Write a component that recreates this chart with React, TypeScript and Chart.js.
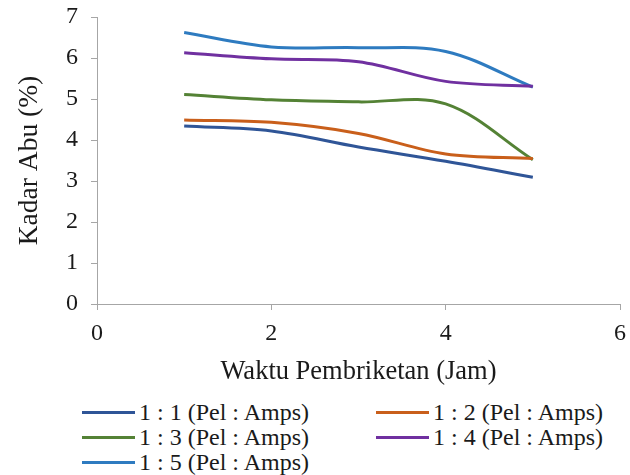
import React, { useEffect, useRef } from "react";
import { Chart, registerables } from "chart.js";

Chart.register(...registerables);

// Hours of briquetting (x)
const hours = [1, 2, 3, 4, 5];
// Ash content (%) per ratio
const ratio11 = [4.34, 4.22, 3.83, 3.48, 3.09];
const ratio12 = [4.49, 4.43, 4.16, 3.66, 3.55];
const ratio13 = [5.11, 4.98, 4.93, 4.88, 3.52];
const ratio14 = [6.13, 5.98, 5.91, 5.43, 5.31];
const ratio15 = [6.62, 6.27, 6.25, 6.16, 5.29];

const seriesLabels = [
  "1 : 1 (Pel : Amps)",
  "1 : 2 (Pel : Amps)",
  "1 : 3 (Pel : Amps)",
  "1 : 4 (Pel : Amps)",
  "1 : 5 (Pel : Amps)",
];
const seriesValues = [ratio11, ratio12, ratio13, ratio14, ratio15];
const seriesColors = ["#2F5597", "#C95F1B", "#548235", "#7030A0", "#2E7BC0"];

const xTitle = "Waktu Pembriketan (Jam)";
const yTitle = "Kadar Abu (%)";
const xMin = 0, xMax = 6, xStep = 2;
const yMin = 0, yMax = 7, yStep = 1;

const FONT = "'Liberation Serif', 'Times New Roman', serif";
const AXIS_COLOR = "#A6A6A6";

// legend layout (grid of two columns)
const legendCols = [82, 376];
const legendRows = [412, 437, 462];

export default function App() {
  const ref = useRef<HTMLCanvasElement>(null);

  useEffect(() => {
    document.body.style.margin = "0";
    const chart = new Chart(ref.current!, {
      type: "line",
      data: {
        datasets: seriesValues.map((vals, i) => ({
          label: seriesLabels[i],
          data: hours.map((h, j) => ({ x: h, y: vals[j] })),
          borderColor: seriesColors[i],
          backgroundColor: seriesColors[i],
          borderWidth: 3,
          pointRadius: 0,
          tension: 0.35,
          fill: false,
        })),
      },
      options: {
        responsive: false,
        animation: false,
        layout: { padding: { left: 9, right: 10, top: 17, bottom: 0 } },
        plugins: { legend: { display: false }, tooltip: { enabled: false } },
        scales: {
          x: {
            type: "linear",
            min: xMin,
            max: xMax,
            ticks: {
              stepSize: xStep,
              font: { family: FONT, size: 24 },
              color: "#1a1a1a",
              padding: 9,
              maxRotation: 0,
            },
            grid: {
              drawOnChartArea: false,
              drawTicks: true,
              tickLength: 6,
              color: AXIS_COLOR,
            },
            border: { color: AXIS_COLOR, width: 1 },
            title: {
              display: true,
              text: xTitle,
              font: { family: FONT, size: 26.5 },
              color: "#1a1a1a",
              padding: { top: 4, bottom: 4 },
            },
            afterFit: (s: any) => {
              s.height = 88;
              s.paddingLeft = 0;
              s.paddingRight = 0;
            },
          },
          y: {
            type: "linear",
            min: yMin,
            max: yMax,
            ticks: {
              stepSize: yStep,
              font: { family: FONT, size: 24 },
              color: "#1a1a1a",
              padding: 13,
            },
            grid: {
              drawOnChartArea: false,
              drawTicks: true,
              tickLength: 6,
              color: AXIS_COLOR,
            },
            border: { color: AXIS_COLOR, width: 1 },
            title: {
              display: true,
              text: yTitle,
              font: { family: FONT, size: 27.5 },
              color: "#1a1a1a",
              padding: { top: 4, bottom: 4 },
            },
            afterFit: (s: any) => {
              s.width = 88;
              s.paddingTop = 0;
              s.paddingBottom = 0;
            },
          },
        },
      },
    });
    return () => chart.destroy();
  }, []);

  return (
    <div style={{ position: "relative", width: 630, height: 475, background: "#fff" }}>
      <canvas ref={ref} width={630} height={392} style={{ display: "block" }} />
      {seriesLabels.map((lab, i) => {
        const col = legendCols[i % 2];
        const row = legendRows[Math.floor(i / 2)];
        return (
          <React.Fragment key={lab}>
            <div
              style={{
                position: "absolute",
                left: col,
                top: row - 1.5,
                width: 53,
                height: 3,
                background: seriesColors[i],
              }}
            />
            <span
              style={{
                position: "absolute",
                left: col + 57,
                top: row - 12.5,
                height: 25,
                lineHeight: "25px",
                fontFamily: FONT,
                fontSize: 24,
                color: "#1a1a1a",
                whiteSpace: "nowrap",
              }}
            >
              {lab}
            </span>
          </React.Fragment>
        );
      })}
    </div>
  );
}
